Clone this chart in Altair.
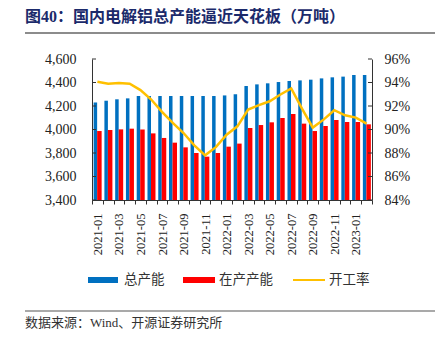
import altair as alt
import pandas as pd

months = ["2021-01", "2021-02", "2021-03", "2021-04", "2021-05", "2021-06",
          "2021-07", "2021-08", "2021-09", "2021-10", "2021-11", "2021-12",
          "2022-01", "2022-02", "2022-03", "2022-04", "2022-05", "2022-06",
          "2022-07", "2022-08", "2022-09", "2022-10", "2022-11", "2022-12",
          "2023-01", "2023-02"]
total = [4230, 4245, 4257, 4265, 4285, 4285, 4285, 4285, 4285, 4285, 4285, 4285,
         4290, 4300, 4370, 4384, 4393, 4404, 4413, 4418, 4424, 4435, 4444, 4450,
         4464, 4464]
inprod = [3987, 3996, 4001, 4007, 4000, 3967, 3928, 3888, 3848, 3800, 3769, 3800,
          3854, 3880, 4013, 4038, 4061, 4098, 4132, 4050, 3987, 4030, 4081, 4064,
          4064, 4044]
rate = [94.06, 93.89, 93.95, 93.89, 93.35, 92.55, 91.5, 90.56, 89.7, 88.65, 87.8, 88.5,
        89.56, 90.27, 91.7, 92.07, 92.4, 92.98, 93.5, 91.78, 90.16, 90.84, 91.64, 91.21,
        91.01, 90.5]
left_ticks = [3400, 3600, 3800, 4000, 4200, 4400, 4600]
right_ticks = [0.84, 0.86, 0.88, 0.90, 0.92, 0.94, 0.96]
series_names = ["总产能", "在产产能", "开工率"]
title_text = "图40：国内电解铝总产能逼近天花板（万吨）"
source_text = "数据来源：Wind、开源证券研究所"

df = pd.DataFrame({"month": months, "total": total, "inprod": inprod,
                   "rate": [r / 100 for r in rate]})

SERIF = "Liberation Serif"
MIX = "Liberation Serif, Noto Sans CJK SC"
AX = "#333333"
W, H = 280, 141

x_enc = alt.X("month:N", sort=months,
              scale=alt.Scale(paddingInner=0, paddingOuter=0),
              axis=alt.Axis(title=None, labelAngle=270, labelFont=SERIF, labelFontSize=12.5,
                            labelColor="#222222", labelOverlap=False,
                            labelExpr="toNumber(substring(datum.value,5,7)) % 2 == 1 ? datum.value : ''",
                            domainColor=AX, tickColor=AX, tickBand="extent", tickSize=4,
                            labelPadding=9))

left_scale = alt.Scale(domain=[3400, 4600], zero=False, nice=False)
left_axis = alt.Axis(title=None, values=left_ticks, labelExpr="format(datum.value, ',')",
                     labelFont=SERIF, labelFontSize=14, labelColor="#222222", ticks=False,
                     labelPadding=16, domainColor=AX, grid=False)
right_scale = alt.Scale(domain=[0.84, 0.96], zero=False, nice=False)
right_axis = alt.Axis(title=None, orient="right", values=right_ticks,
                      labelExpr="format(datum.value, '.0%')",
                      labelFont=SERIF, labelFontSize=14, labelColor="#222222", ticks=False,
                      labelPadding=12, domainColor=AX, grid=False)

base = alt.Chart(df)
bars_total = base.mark_bar(color="#0070C0", size=3.5, xOffset=-2).encode(
    x=x_enc, y=alt.Y("total:Q", scale=left_scale, axis=left_axis), y2=alt.datum(3400))
bars_in = base.mark_bar(color="#FF0000", size=4.5, xOffset=2).encode(
    x=x_enc, y=alt.Y("inprod:Q", scale=left_scale, axis=left_axis), y2=alt.datum(3400))
lt = alt.Chart(pd.DataFrame({"v": left_ticks})).mark_rule(color=AX).encode(
    y=alt.Y("v:Q", scale=left_scale, axis=left_axis), x=alt.value(0), x2=alt.value(4))
left = alt.layer(bars_total, bars_in, lt)

line = base.mark_line(color="#FFC000", strokeWidth=2.5).encode(
    x=x_enc, y=alt.Y("rate:Q", scale=right_scale, axis=right_axis))
rt = alt.Chart(pd.DataFrame({"v": right_ticks})).mark_rule(color=AX).encode(
    y=alt.Y("v:Q", scale=right_scale, axis=right_axis), x=alt.value(W - 4), x2=alt.value(W))
right = alt.layer(line, rt)

one = alt.Chart(pd.DataFrame({"a": [0]}))
title = one.mark_text(text=title_text, font=MIX, fontSize=16, fontWeight="bold",
                      color="#1b2a6b", align="left", baseline="middle").encode(
    x=alt.value(-67), y=alt.value(-42))
uline = one.mark_rule(color="#8c8c8c", strokeWidth=2).encode(
    x=alt.value(-67), x2=alt.value(343), y=alt.value(-26))
sline = one.mark_rule(color="#8c8c8c", strokeWidth=1.5).encode(
    x=alt.value(-67), x2=alt.value(343), y=alt.value(252))
source = one.mark_text(text=source_text, font=MIX, fontSize=13, color="#333333",
                       align="left", baseline="middle").encode(
    x=alt.value(-67), y=alt.value(264))

ly = 221
sw1 = one.mark_rect(color="#0070C0").encode(x=alt.value(-4), x2=alt.value(26),
                                            y=alt.value(ly - 3), y2=alt.value(ly + 3))
sw2 = one.mark_rect(color="#FF0000").encode(x=alt.value(91), x2=alt.value(123),
                                            y=alt.value(ly - 3), y2=alt.value(ly + 3))
sw3 = one.mark_rule(color="#FFC000", strokeWidth=2).encode(x=alt.value(201), x2=alt.value(233),
                                                            y=alt.value(ly))
legtexts = []
for name, xp in zip(series_names, [32, 127, 237]):
    legtexts.append(one.mark_text(text=name, font="Noto Sans CJK SC", fontSize=13.5,
                                  color="#333333", align="left", baseline="middle").encode(
        x=alt.value(xp), y=alt.value(ly)))

chart = alt.layer(left, right, title, uline, sline, source, sw1, sw2, sw3, *legtexts).resolve_scale(
    y="independent").properties(
    width=W, height=H,
    autosize=alt.AutoSizeParams(type="none"),
    padding={"left": 92, "top": 59, "right": 70, "bottom": 139},
    background="white").configure_view(stroke=None)

chart.save("out.html", embed_options={"renderer": "svg", "actions": False})
